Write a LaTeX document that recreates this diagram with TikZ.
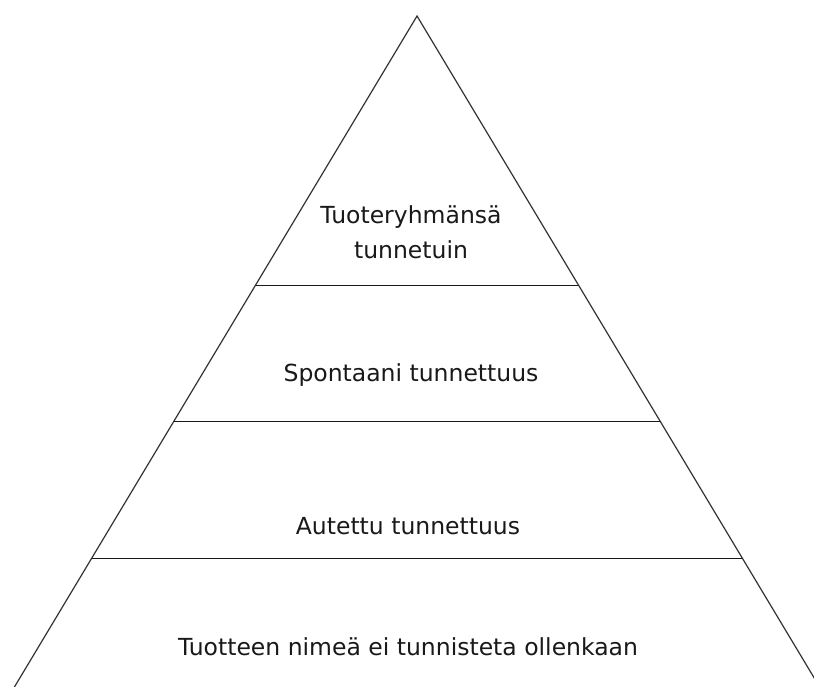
\documentclass[tikz,border=0pt]{standalone}
\usepackage{fontspec}
\setmainfont{DejaVu Sans}
\usetikzlibrary{calc}
\begin{document}
\begin{tikzpicture}[x=1pt,y=-1pt,
  edge/.style={line width=1.2pt,draw=black!80},
  tier/.style={line width=1pt,draw=black!90},
  label/.style={anchor=base,inner sep=0pt,font=\fontsize{23.5}{28}\selectfont,text=black!90}]
  \useasboundingbox[fill=white] (0,0) rectangle (814,686);
  \clip (0,0) rectangle (814,686);
  % outline of the pyramid
  \coordinate (apex) at (417,16);
  \coordinate (bl) at (15,686);
  \coordinate (br) at (819,686);
  \draw[edge] ($(apex)!1.03!(bl)$) -- (apex) -- ($(apex)!1.03!(br)$);
  % tier boundaries
  \foreach \f/\n in {0.4015/a,0.6052/b,0.809/c}{
    \coordinate (l\n) at ($(apex)!\f!(bl)$);
    \coordinate (r\n) at ($(apex)!\f!(br)$);
    \draw[tier] (l\n) -- (r\n);
  }
  % tier labels
  \node[label] (t1a) at (411,223) {Tuoteryhmänsä};
  \node[label] (t1b) at (411,258) {tunnetuin};
  \node[label] (t2) at (411,381) {Spontaani tunnettuus};
  \node[label] (t3) at (408,534) {Autettu tunnettuus};
  \node[label] (t4) at (408,655) {Tuotteen nimeä ei tunnisteta ollenkaan};
\end{tikzpicture}
\end{document}
